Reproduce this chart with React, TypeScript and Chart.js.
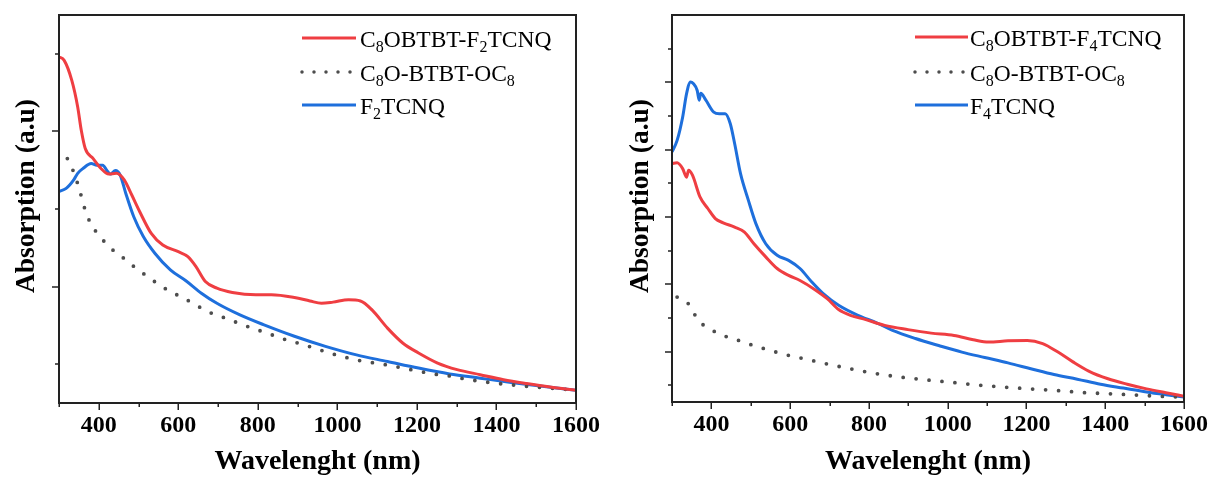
import React, { useEffect, useRef } from 'react';
import { Chart, registerables } from 'chart.js';

Chart.register(...registerables);

const SERIF = '"Liberation Serif", "Times New Roman", Times, serif';

// ---------- x axis ----------
const xMin = 300;
const xMax = 1600;
const xTickLabels = [400, 600, 800, 1000, 1200, 1400, 1600];

// ---------- left panel (F2TCNQ) ----------
const leftComplexX = [300, 313, 332, 347, 356, 366, 386, 405, 425, 444, 464, 483, 503, 532, 561, 600, 624, 644, 668, 697, 736, 795, 834, 892, 931, 960, 989, 1028, 1058, 1087, 1126, 1165, 1204, 1252, 1301, 1359, 1418, 1476, 1535, 1600];
const leftComplexY = [0.892, 0.883, 0.832, 0.763, 0.703, 0.656, 0.630, 0.605, 0.590, 0.592, 0.575, 0.536, 0.493, 0.437, 0.407, 0.390, 0.377, 0.352, 0.313, 0.296, 0.285, 0.279, 0.279, 0.272, 0.263, 0.257, 0.260, 0.266, 0.263, 0.240, 0.193, 0.154, 0.129, 0.103, 0.086, 0.073, 0.060, 0.050, 0.041, 0.033];

const leftDonorX = [321, 335, 350, 365, 380, 400, 430, 459, 488, 517, 546, 575, 610, 639, 673, 707, 746, 785, 824, 858, 902, 941, 980, 1019, 1053, 1093, 1131, 1170, 1209, 1247, 1286, 1321, 1359, 1398, 1437, 1476, 1515, 1554, 1600];
const leftDonorY = [0.630, 0.600, 0.555, 0.500, 0.462, 0.433, 0.399, 0.376, 0.352, 0.330, 0.309, 0.290, 0.272, 0.256, 0.236, 0.223, 0.208, 0.193, 0.180, 0.167, 0.154, 0.142, 0.129, 0.118, 0.110, 0.103, 0.097, 0.089, 0.081, 0.074, 0.069, 0.062, 0.056, 0.051, 0.047, 0.043, 0.040, 0.037, 0.033];

const leftAcceptorX = [300, 318, 337, 347, 361, 381, 395, 410, 420, 429, 442, 454, 468, 488, 512, 541, 580, 619, 658, 697, 755, 814, 892, 970, 1048, 1126, 1204, 1282, 1359, 1437, 1515, 1600];
const leftAcceptorY = [0.545, 0.553, 0.575, 0.592, 0.605, 0.617, 0.613, 0.613, 0.600, 0.590, 0.599, 0.587, 0.540, 0.480, 0.429, 0.386, 0.343, 0.315, 0.283, 0.257, 0.227, 0.202, 0.172, 0.146, 0.124, 0.107, 0.090, 0.075, 0.064, 0.053, 0.043, 0.033];

const leftYTicks = [0.1, 0.3, 0.5, 0.7, 0.9];
const leftYMajor = [0.3, 0.7];

// ---------- right panel (F4TCNQ) ----------
const rightComplexX = [300, 313, 327, 337, 342, 352, 371, 391, 410, 430, 459, 484, 508, 538, 567, 596, 625, 665, 694, 723, 753, 792, 840, 899, 958, 1016, 1065, 1104, 1153, 1202, 1241, 1280, 1319, 1358, 1407, 1456, 1505, 1554, 1600];
const rightComplexY = [0.616, 0.618, 0.603, 0.581, 0.599, 0.586, 0.530, 0.500, 0.474, 0.463, 0.452, 0.439, 0.409, 0.375, 0.345, 0.327, 0.314, 0.289, 0.267, 0.239, 0.224, 0.213, 0.198, 0.187, 0.178, 0.172, 0.161, 0.155, 0.158, 0.159, 0.151, 0.129, 0.103, 0.080, 0.060, 0.046, 0.034, 0.024, 0.015];

const rightDonorX = [313, 345, 365, 396, 430, 472, 510, 547, 586, 625, 665, 704, 743, 782, 821, 860, 899, 938, 977, 1007, 1045, 1085, 1124, 1163, 1207, 1241, 1270, 1310, 1348, 1397, 1437, 1476, 1515, 1554, 1597];
const rightDonorY = [0.271, 0.250, 0.213, 0.189, 0.172, 0.158, 0.145, 0.134, 0.123, 0.114, 0.105, 0.096, 0.088, 0.080, 0.073, 0.067, 0.062, 0.058, 0.054, 0.051, 0.047, 0.043, 0.040, 0.037, 0.034, 0.032, 0.030, 0.027, 0.024, 0.022, 0.020, 0.018, 0.016, 0.014, 0.013];

const rightAcceptorX = [300, 313, 327, 337, 347, 354, 364, 369, 373, 386, 406, 420, 435, 448, 459, 474, 494, 513, 538, 567, 596, 625, 655, 684, 723, 772, 821, 860, 918, 977, 1036, 1094, 1153, 1211, 1270, 1329, 1388, 1446, 1505, 1554, 1600];
const rightAcceptorY = [0.646, 0.676, 0.736, 0.797, 0.827, 0.823, 0.805, 0.780, 0.798, 0.780, 0.749, 0.745, 0.745, 0.719, 0.668, 0.590, 0.521, 0.461, 0.409, 0.379, 0.366, 0.345, 0.310, 0.280, 0.250, 0.224, 0.204, 0.185, 0.164, 0.146, 0.129, 0.115, 0.101, 0.086, 0.071, 0.059, 0.046, 0.036, 0.026, 0.019, 0.013];

const rightYTicks = [0.0435, 0.1304, 0.2174, 0.3043, 0.3913, 0.4783, 0.5652, 0.6522, 0.7391, 0.8261, 0.9130];
const rightYMajor = [0.1304, 0.3043, 0.4783, 0.6522, 0.8261];

// ---------- labels ----------
type Seg = { t: string; sub?: boolean };
const leftLabels: Seg[][] = [
  [{ t: 'C' }, { t: '8', sub: true }, { t: 'OBTBT-F' }, { t: '2', sub: true }, { t: 'TCNQ' }],
  [{ t: 'C' }, { t: '8', sub: true }, { t: 'O-BTBT-OC' }, { t: '8', sub: true }],
  [{ t: 'F' }, { t: '2', sub: true }, { t: 'TCNQ' }],
];
const rightLabels: Seg[][] = [
  [{ t: 'C' }, { t: '8', sub: true }, { t: 'OBTBT-F' }, { t: '4', sub: true }, { t: 'TCNQ' }],
  [{ t: 'C' }, { t: '8', sub: true }, { t: 'O-BTBT-OC' }, { t: '8', sub: true }],
  [{ t: 'F' }, { t: '4', sub: true }, { t: 'TCNQ' }],
];
const xTitle = 'Wavelenght (nm)';
const yTitle = 'Absorption (a.u)';

const RED = '#EF3E42';
const BLUE = '#1E6FDC';
const GREY = '#4D4D4D';

type Series = { label: Seg[]; x: number[]; y: number[]; color: string; dotted?: boolean };
type Panel = {
  series: Series[];
  area: { left: number; right: number; top: number; bottom: number };
  yTicks: number[];
  yMajor: number[];
  yTitlePos: [number, number];
  legend: { x0: number; x1: number; tx: number; rows: number[] };
};

const CW = 608;
const CH = 480;

const panels: Panel[] = [
  {
    series: [
      { label: leftLabels[0], x: leftComplexX, y: leftComplexY, color: RED },
      { label: leftLabels[1], x: leftDonorX, y: leftDonorY, color: GREY, dotted: true },
      { label: leftLabels[2], x: leftAcceptorX, y: leftAcceptorY, color: BLUE },
    ],
    area: { left: 59, right: 576, top: 15, bottom: 403 },
    yTicks: leftYTicks,
    yMajor: leftYMajor,
    yTitlePos: [27, 196],
    legend: { x0: 302, x1: 356, tx: 360, rows: [38, 72, 105] },
  },
  {
    series: [
      { label: rightLabels[0], x: rightComplexX, y: rightComplexY, color: RED },
      { label: rightLabels[1], x: rightDonorX, y: rightDonorY, color: GREY, dotted: true },
      { label: rightLabels[2], x: rightAcceptorX, y: rightAcceptorY, color: BLUE },
    ],
    area: { left: 64, right: 580, top: 15, bottom: 402 },
    yTicks: rightYTicks,
    yMajor: rightYMajor,
    yTitlePos: [33, 196],
    legend: { x0: 307, x1: 360, tx: 362, rows: [37, 72, 105] },
  },
];

function decorPlugin(p: Panel) {
  return {
    id: 'decor',
    afterDatasetsDraw(chart: any) {
      const { ctx, chartArea: a, scales } = chart;
      ctx.save();
      // frame
      ctx.strokeStyle = '#222';
      ctx.lineWidth = 2;
      ctx.setLineDash([]);
      ctx.strokeRect(a.left, a.top, a.right - a.left, a.bottom - a.top);
      // x ticks
      ctx.lineWidth = 1.5;
      for (let v = xMin; v <= xMax; v += 100) {
        const px = Math.round(scales.x.getPixelForValue(v)) + 0.25;
        const len = xTickLabels.includes(v) ? 7 : 4;
        ctx.beginPath();
        ctx.moveTo(px, a.bottom);
        ctx.lineTo(px, a.bottom + len);
        ctx.stroke();
      }
      // y ticks
      for (const v of p.yTicks) {
        const py = Math.round(scales.y.getPixelForValue(v));
        const len = p.yMajor.includes(v) ? 7 : 4;
        ctx.beginPath();
        ctx.moveTo(a.left - len, py);
        ctx.lineTo(a.left, py);
        ctx.stroke();
      }
      // y title
      ctx.fillStyle = '#000';
      ctx.font = `bold 27.5px ${SERIF}`;
      ctx.textAlign = 'center';
      ctx.textBaseline = 'middle';
      ctx.translate(p.yTitlePos[0], p.yTitlePos[1]);
      ctx.rotate(-Math.PI / 2);
      ctx.fillText(yTitle, 0, 0);
      ctx.restore();

      // legend
      ctx.save();
      const L = p.legend;
      p.series.forEach((s, i) => {
        const y = L.rows[i];
        ctx.strokeStyle = s.color;
        if (s.dotted) {
          ctx.lineWidth = 3.5;
          ctx.lineCap = 'round';
          ctx.setLineDash([0, 12]);
        } else {
          ctx.lineWidth = 3;
          ctx.lineCap = 'butt';
          ctx.setLineDash([]);
        }
        ctx.beginPath();
        ctx.moveTo(L.x0, y);
        ctx.lineTo(L.x1, y);
        ctx.stroke();
        ctx.setLineDash([]);
        let x = L.tx;
        const base = y + 8.5;
        ctx.fillStyle = '#000';
        ctx.textAlign = 'left';
        ctx.textBaseline = 'alphabetic';
        for (const seg of s.label) {
          ctx.font = seg.sub ? `16px ${SERIF}` : `23.5px ${SERIF}`;
          ctx.fillText(seg.t, x, seg.sub ? base + 5 : base);
          x += ctx.measureText(seg.t).width;
        }
      });
      ctx.restore();
    },
  };
}

function buildConfig(p: Panel): any {
  return {
    type: 'line',
    data: {
      datasets: p.series.map((s) => ({
        label: s.label.map((g) => g.t).join(''),
        data: s.x.map((x, i) => ({ x, y: s.y[i] })),
        borderColor: s.color,
        backgroundColor: s.color,
        borderWidth: s.dotted ? 3.8 : 3,
        borderDash: s.dotted ? [0, 13] : [],
        borderCapStyle: s.dotted ? 'round' : 'butt',
        borderJoinStyle: 'round',
        pointRadius: 0,
        cubicInterpolationMode: 'monotone',
        fill: false,
      })),
    },
    options: {
      animation: false,
      responsive: false,
      maintainAspectRatio: false,
      devicePixelRatio: 1,
      events: [],
      layout: { padding: { left: 0, top: p.area.top, right: CW - p.area.right, bottom: 0 } },
      plugins: { legend: { display: false }, tooltip: { enabled: false }, title: { display: false } },
      scales: {
        x: {
          type: 'linear',
          min: xMin,
          max: xMax,
          afterFit: (s: any) => {
            s.height = CH - p.area.bottom;
          },
          ticks: {
            stepSize: 100,
            autoSkip: false,
            maxRotation: 0,
            minRotation: 0,
            padding: 8,
            color: '#000',
            font: { family: SERIF, size: 24, weight: 'bold' },
            callback: (v: number) => (xTickLabels.includes(v) ? String(v) : ''),
          },
          grid: { display: false, drawTicks: false },
          border: { display: false },
          title: {
            display: true,
            text: xTitle,
            color: '#000',
            font: { family: SERIF, size: 28, weight: 'bold' },
            padding: { top: 0, bottom: 1 },
          },
        },
        y: {
          type: 'linear',
          min: 0,
          max: 1,
          afterFit: (s: any) => {
            s.width = p.area.left;
          },
          ticks: { display: false },
          grid: { display: false, drawTicks: false },
          border: { display: false },
        },
      },
    },
    plugins: [decorPlugin(p)],
  };
}

function ChartPanel({ panel, left }: { panel: Panel; left: number }) {
  const ref = useRef<HTMLCanvasElement>(null);
  useEffect(() => {
    const chart = new Chart(ref.current as HTMLCanvasElement, buildConfig(panel));
    return () => chart.destroy();
  }, [panel]);
  return (
    <canvas
      ref={ref}
      width={CW}
      height={CH}
      style={{ position: 'absolute', left, top: 0, width: CW, height: CH, display: 'block' }}
    />
  );
}

export default function App() {
  return (
    <div style={{ position: 'absolute', left: 0, top: 0, width: 1216, height: 480, background: '#fff', overflow: 'hidden' }}>
      <ChartPanel panel={panels[0]} left={0} />
      <ChartPanel panel={panels[1]} left={608} />
    </div>
  );
}
